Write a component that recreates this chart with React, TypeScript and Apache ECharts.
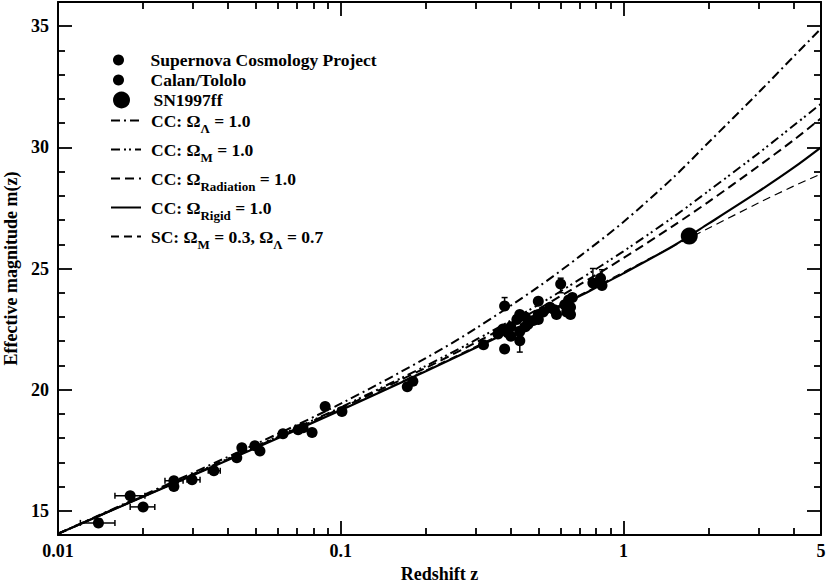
import React, { useEffect, useRef } from 'react';
import * as echarts from 'echarts';

const FONT = '"Liberation Serif", "Times New Roman", serif';

// model curves: redshift samples and effective magnitudes
const zCurve = [0.01, 0.02, 0.05, 0.1, 0.2, 0.3, 0.5, 0.7, 1, 1.5, 2, 3, 4, 5];
const mLambda = [14.05, 15.64, 17.75, 19.42, 21.3, 22.52, 24.24, 25.5, 26.92, 28.75, 30.2, 32.25, 33.75, 34.9];
const mMatter = [14.05, 15.6, 17.66, 19.27, 20.98, 22.05, 23.5, 24.55, 25.71, 27.12, 28.2, 29.75, 30.9, 31.8];
const mRadiation = [14.05, 15.59, 17.63, 19.23, 20.9, 21.94, 23.33, 24.33, 25.43, 26.76, 27.75, 29.22, 30.3, 31.2];
const mRigid = [14.05, 15.58, 17.59, 19.15, 20.76, 21.73, 22.98, 23.86, 24.8, 25.93, 26.85, 28.17, 29.16, 30.0];
const mStandard = [14.05, 15.57, 17.6, 19.17, 20.8, 21.78, 23.05, 23.9, 24.85, 25.92, 26.66, 27.7, 28.4, 28.9];

// Supernova Cosmology Project (z, m)
const scpPoints = [
  [0.172, 20.12], [0.18, 20.35], [0.32, 21.85], [0.36, 22.3], [0.375, 22.5], [0.38, 21.68],
  [0.38, 23.45], [0.39, 22.35], [0.4, 22.6], [0.4, 22.2], [0.42, 22.9], [0.43, 22.4],
  [0.43, 22.02], [0.43, 23.1], [0.45, 22.6], [0.45, 23.0], [0.46, 22.7], [0.48, 22.85],
  [0.5, 23.65], [0.5, 23.1], [0.5, 22.9], [0.52, 23.2], [0.55, 23.4], [0.57, 23.3],
  [0.58, 23.1], [0.6, 24.36], [0.62, 23.5], [0.63, 23.2], [0.64, 23.7], [0.65, 23.4],
  [0.65, 23.1], [0.66, 23.8], [0.78, 24.4], [0.83, 24.6], [0.84, 24.3],
];
// Calan/Tololo (z, m)
const ctPoints = [
  [0.0139, 14.5], [0.018, 15.62], [0.02, 15.16], [0.0257, 16.24], [0.0257, 16.0],
  [0.0298, 16.28], [0.0356, 16.65], [0.0429, 17.19], [0.0447, 17.6], [0.0497, 17.68],
  [0.0518, 17.47], [0.0625, 18.18], [0.0707, 18.34], [0.0736, 18.43], [0.0792, 18.23],
  [0.0881, 19.3], [0.101, 19.1],
];
// SN1997ff (z, m)
const sn1997ff = [[1.71, 26.34]];

// horizontal error bars: [zLow, zHigh, m]
const hErrors = [
  [0.012, 0.0159, 14.5], [0.0159, 0.0203, 15.62], [0.018, 0.022, 15.16],
  [0.0239, 0.0277, 16.24], [0.0286, 0.0318, 16.28], [0.034, 0.0375, 16.65],
];
// vertical error bars: [z, mLow, mHigh]
const vErrors = [
  [0.43, 21.55, 22.1], [0.6, 24.0, 24.6], [0.78, 24.3, 25.0], [0.84, 24.2, 24.95], [0.38, 23.3, 23.8],
];

// axis ticks
const xLabelValues = [0.01, 0.1, 1, 5];
const xMajorTicks = [0.01, 0.1, 1];
const xMinorTicks = [0.02, 0.03, 0.04, 0.05, 0.06, 0.07, 0.08, 0.09, 0.2, 0.3, 0.4, 0.5, 0.6, 0.7, 0.8, 0.9, 2, 3, 4];
const yMajorTicks = [15, 20, 25, 30, 35];
const yMinorTicks = [16, 17, 18, 19, 21, 22, 23, 24, 26, 27, 28, 29, 31, 32, 33, 34];

const NAMES = {
  scp: 'Supernova Cosmology Project',
  ct: 'Calan/Tololo',
  ff: 'SN1997ff',
  lam: 'CC: ΩΛ = 1.0',
  mat: 'CC: ΩM = 1.0',
  rad: 'CC: ΩRadiation = 1.0',
  rig: 'CC: ΩRigid = 1.0',
  sc: 'SC: ΩM = 0.3, ΩΛ = 0.7',
};
const legendRich: Record<string, string> = {
  [NAMES.scp]: '{g| }Supernova Cosmology Project',
  [NAMES.ct]: '{g| }Calan/Tololo',
  [NAMES.ff]: '{g| }SN1997ff',
  [NAMES.lam]: '{g| }CC: Ω{s|Λ} = 1.0',
  [NAMES.mat]: '{g| }CC: Ω{s|M} = 1.0',
  [NAMES.rad]: '{g| }CC: Ω{s|Radiation} = 1.0',
  [NAMES.rig]: '{g| }CC: Ω{s|Rigid} = 1.0',
  [NAMES.sc]: '{g| }SC: Ω{s|M} = 0.3, Ω{s|Λ} = 0.7',
};

export default function App() {
  const ref = useRef<HTMLDivElement>(null);
  useEffect(() => {
    if (!ref.current) return;
    const chart = echarts.init(ref.current, null, { renderer: 'svg' });
    const black = '#000';
    const labelStyle = { fontFamily: FONT, fontWeight: 'bold', fontSize: 18, color: black };
    const tickLine = { color: black, width: 1.8 };
    const xBase = {
      type: 'log', logBase: 10, min: 0.01, max: 5, gridIndex: 0,
      splitLine: { show: false }, minorTick: { show: false }, minorSplitLine: { show: false },
    };
    const yBase = {
      type: 'value', min: 14, max: 36, gridIndex: 0,
      splitLine: { show: false }, minorTick: { show: false },
    };
    const frame = { show: true, onZero: false, lineStyle: { color: black, width: 2 } };
    const noLine = { show: false };
    const curve = (name: string, vals: number[], type: any, width: number) => ({
      name, type: 'line', symbol: 'none', showSymbol: false, smooth: 0.3,
      data: zCurve.map((z, i) => [z, vals[i]]),
      lineStyle: { color: black, width, type },
      itemStyle: { color: black },
      z: 3,
    });
    const sub = { fontFamily: FONT, fontWeight: 'bold', fontSize: 13, lineHeight: 13, padding: [16, 0, 0, 0], color: black };
    const legendCommon = {
      orient: 'vertical', itemWidth: 30, selectedMode: false, padding: 5,
      formatter: (n: string) => legendRich[n] || n,
    };
    const textBase = { fontFamily: FONT, fontWeight: 'bold', fontSize: 17.5, color: black, lineHeight: 20 };
    const option: any = {
      animation: false,
      backgroundColor: '#fff',
      grid: { left: 58, right: 8, top: 2, bottom: 48, containLabel: false, outerBoundsMode: 'none' },
      legend: [
        {
          ...legendCommon, left: 108, top: 45, itemHeight: 11, itemGap: 0, data: [NAMES.scp, NAMES.ct],
          textStyle: { ...textBase, rich: { g: { width: 12 }, s: sub } },
        },
        {
          ...legendCommon, left: 108, top: 85, itemHeight: 17, itemGap: 0, data: [NAMES.ff],
          textStyle: { ...textBase, rich: { g: { width: 12 }, s: sub } },
        },
        {
          ...legendCommon, left: 105, top: 101, itemHeight: 1, itemGap: 0,
          itemStyle: { opacity: 0 },
          textStyle: { ...textBase, rich: { g: { width: 5 }, s: sub } },
          data: [NAMES.lam, NAMES.mat, NAMES.rad, NAMES.rig, NAMES.sc],
        },
      ],
      xAxis: [
        {
          ...xBase, position: 'bottom', axisLine: frame,
          axisTick: { show: true, inside: true, length: 14, customValues: xMajorTicks, lineStyle: tickLine },
          axisLabel: { ...labelStyle, margin: 7, customValues: xLabelValues, formatter: (v: number) => String(+v.toPrecision(2)) },
          name: 'Redshift z', nameLocation: 'middle', nameGap: 25,
          nameTextStyle: { fontFamily: FONT, fontWeight: 'bold', fontSize: 18, color: black },
        },
        {
          ...xBase, position: 'bottom', axisLine: noLine,
          axisTick: { show: true, inside: true, length: 7, customValues: xMinorTicks, lineStyle: tickLine },
          axisLabel: { show: false },
        },
        {
          ...xBase, position: 'top', axisLine: frame,
          axisTick: { show: true, inside: true, length: 14, customValues: xMajorTicks, lineStyle: tickLine },
          axisLabel: { show: false },
        },
        {
          ...xBase, position: 'top', axisLine: noLine,
          axisTick: { show: true, inside: true, length: 7, customValues: xMinorTicks, lineStyle: tickLine },
          axisLabel: { show: false },
        },
      ],
      yAxis: [
        {
          ...yBase, position: 'left', axisLine: frame,
          axisTick: { show: true, inside: true, length: 14, customValues: yMajorTicks, lineStyle: tickLine },
          axisLabel: { ...labelStyle, margin: 9, customValues: yMajorTicks },
          name: 'Effective magnitude m(z)', nameLocation: 'middle', nameGap: 34,
          nameTextStyle: { fontFamily: FONT, fontWeight: 'bold', fontSize: 18, color: black },
        },
        {
          ...yBase, position: 'left', axisLine: noLine,
          axisTick: { show: true, inside: true, length: 7, customValues: yMinorTicks, lineStyle: tickLine },
          axisLabel: { show: false },
        },
        {
          ...yBase, position: 'right', axisLine: frame,
          axisTick: { show: true, inside: true, length: 14, customValues: yMajorTicks, lineStyle: tickLine },
          axisLabel: { show: false },
        },
        {
          ...yBase, position: 'right', axisLine: noLine,
          axisTick: { show: true, inside: true, length: 7, customValues: yMinorTicks, lineStyle: tickLine },
          axisLabel: { show: false },
        },
      ],
      series: [
        {
          name: NAMES.scp, type: 'scatter', symbol: 'circle', symbolSize: 11,
          data: scpPoints, itemStyle: { color: black, opacity: 1 }, z: 4,
        },
        {
          name: NAMES.ct, type: 'scatter', symbol: 'circle', symbolSize: 11,
          data: ctPoints, itemStyle: { color: black, opacity: 1 }, z: 4,
        },
        {
          name: NAMES.ff, type: 'scatter', symbol: 'circle', symbolSize: 17,
          data: sn1997ff, itemStyle: { color: black, opacity: 1 }, z: 4,
        },
        curve(NAMES.lam, mLambda, [9, 4, 2, 4], 2),
        curve(NAMES.mat, mMatter, [9, 4, 2, 3, 2, 4], 2),
        curve(NAMES.rad, mRadiation, [9, 5], 2),
        curve(NAMES.rig, mRigid, 'solid', 2.2),
        curve(NAMES.sc, mStandard, [8, 5], 1.2),
        {
          type: 'custom', name: 'hErr', data: hErrors, encode: { x: [0, 1], y: 2 }, z: 3,
          renderItem: (params: any, api: any) => {
            const a = api.coord([api.value(0), api.value(2)]);
            const b = api.coord([api.value(1), api.value(2)]);
            const st = { stroke: black, lineWidth: 1.5 };
            return {
              type: 'group', children: [
                { type: 'line', shape: { x1: a[0], y1: a[1], x2: b[0], y2: b[1] }, style: st },
                { type: 'line', shape: { x1: a[0], y1: a[1] - 3, x2: a[0], y2: a[1] + 3 }, style: st },
                { type: 'line', shape: { x1: b[0], y1: b[1] - 3, x2: b[0], y2: b[1] + 3 }, style: st },
              ],
            };
          },
        },
        {
          type: 'custom', name: 'vErr', data: vErrors, encode: { x: 0, y: [1, 2] }, z: 3,
          renderItem: (params: any, api: any) => {
            const a = api.coord([api.value(0), api.value(1)]);
            const b = api.coord([api.value(0), api.value(2)]);
            const st = { stroke: black, lineWidth: 1.5 };
            return {
              type: 'group', children: [
                { type: 'line', shape: { x1: a[0], y1: a[1], x2: b[0], y2: b[1] }, style: st },
                { type: 'line', shape: { x1: a[0] - 3, y1: a[1], x2: a[0] + 3, y2: a[1] }, style: st },
                { type: 'line', shape: { x1: b[0] - 3, y1: b[1], x2: b[0] + 3, y2: b[1] }, style: st },
              ],
            };
          },
        },
      ],
    };
    chart.setOption(option);
    return () => chart.dispose();
  }, []);
  return <div ref={ref} style={{ position: 'fixed', left: 0, top: 0, width: 829, height: 583, background: '#fff' }} />;
}
